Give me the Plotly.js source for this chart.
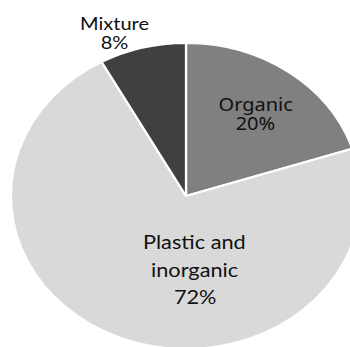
<!DOCTYPE html>
<html>
<head>
<meta charset="utf-8">
<script src="https://cdn.plot.ly/plotly-3.0.1.min.js"></script>
<style>
  html, body { margin: 0; padding: 0; background: #ffffff; overflow: hidden; width: 350px; height: 347px; }
  #chart { width: 330px; height: 360px; transform: scaleX(1.144); transform-origin: 0 0; }
</style>
</head>
<body>
<div id="chart"></div>
<script>
// Waste composition
const categories = ['Organic', 'Plastic and inorganic', 'Mixture'];
const shares = [20, 72, 8];
const sliceColors = ['#808080', '#d9d9d9', '#404040'];

// Label lines for each slice (category name split over lines)
const nameLines = [['Organic'], ['Plastic and', 'inorganic'], ['Mixture']];

// Layout of the drawing area (unscaled px); the div is stretched horizontally by CSS
const W = 330, H = 360, SX = 1.144;
const cx = 186 / SX, cy = 196, r = 153;

// Label placement: screen x of the text centre, screen y of first line, line gap, font
const labelSpots = [
  { x: 256, y: 104, gap: 18.5, font: 'Noto Sans', size: 17.5 },
  { x: 194.5, y: 241.5, gap: 27.5, font: 'Lato', size: 19 },
  { x: 114, y: 23, gap: 19.5, font: 'Lato', size: 17.5 }
];

const total = shares.reduce((a, b) => a + b, 0);

const trace = {
  type: 'pie',
  labels: categories,
  values: shares,
  sort: false,
  direction: 'clockwise',
  rotation: 0,
  textinfo: 'none',
  hoverinfo: 'label+percent',
  marker: { colors: sliceColors, line: { color: '#ffffff', width: 2 } },
  domain: { x: [(cx - r) / W, (cx + r) / W], y: [1 - (cy + r) / H, 1 - (cy - r) / H] },
  showlegend: false
};

const annotations = [];
categories.forEach((c, i) => {
  const pct = Math.round(shares[i] / total * 100) + '%';
  const lines = nameLines[i].concat([pct]);
  const s = labelSpots[i];
  lines.forEach((t, k) => {
    annotations.push({
      xref: 'paper', yref: 'paper',
      x: (s.x / SX) / W,
      y: 1 - (s.y + k * s.gap) / H,
      xanchor: 'center', yanchor: 'middle',
      text: t, showarrow: false,
      font: { family: s.font, size: s.size, color: '#111111' }
    });
  });
});

const layout = {
  width: W, height: H,
  margin: { l: 0, r: 0, t: 0, b: 0 },
  paper_bgcolor: '#ffffff',
  plot_bgcolor: '#ffffff',
  annotations: annotations
};

Plotly.newPlot('chart', [trace], layout, { staticPlot: true, displayModeBar: false });
</script>
</body>
</html>
